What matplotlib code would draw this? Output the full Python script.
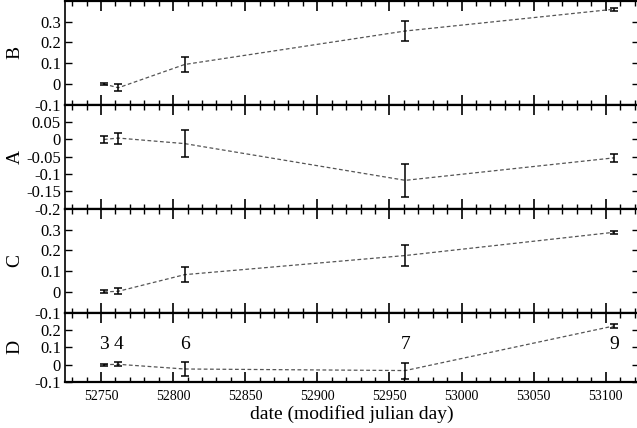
import matplotlib
matplotlib.use("Agg")
import matplotlib.pyplot as plt
from matplotlib.ticker import MultipleLocator, FixedLocator

plt.rcParams["font.family"] = ["Liberation Serif", "DejaVu Serif"]

# observation dates (MJD) and epoch numbers
dates = [52752, 52762, 52808, 52961, 53106]
epochs = ["3", "4", "6", "7", "9"]

# panel values and errors
b_val = [0.0, -0.018, 0.094, 0.255, 0.360]
b_err = [0.006, 0.017, 0.037, 0.048, 0.007]
a_val = [0.0, 0.004, -0.012, -0.118, -0.053]
a_err = [0.011, 0.016, 0.038, 0.048, 0.012]
c_val = [0.0, 0.003, 0.083, 0.175, 0.287]
c_err = [0.007, 0.014, 0.036, 0.050, 0.008]
d_val = [0.0, 0.002, -0.025, -0.034, 0.224]
d_err = [0.006, 0.012, 0.043, 0.046, 0.010]

panels = [
    ("B", b_val, b_err, (-0.1, 0.4), [-0.1, 0, 0.1, 0.2, 0.3], ["-0.1", "0", "0.1", "0.2", "0.3"]),
    ("A", a_val, a_err, (-0.2, 0.1), [-0.2, -0.15, -0.1, -0.05, 0, 0.05],
     ["-0.2", "-0.15", "-0.1", "-0.05", "0", "0.05"]),
    ("C", c_val, c_err, (-0.1, 0.4), [-0.1, 0, 0.1, 0.2, 0.3], ["-0.1", "0", "0.1", "0.2", "0.3"]),
    ("D", d_val, d_err, (-0.1, 0.3), [-0.1, 0, 0.1, 0.2], ["-0.1", "0", "0.1", "0.2"]),
]

fig = plt.figure(figsize=(6.37, 4.28), dpi=100)
gs = fig.add_gridspec(4, 1, height_ratios=[3, 3, 3, 2], hspace=0,
                      left=0.102, right=1.003, top=0.998, bottom=0.1075)

axes = []
for i, (name, vals, errs, ylim, yt, ytl) in enumerate(panels):
    ax = fig.add_subplot(gs[i], sharex=axes[0] if axes else None)
    axes.append(ax)
    ax.plot(dates, vals, ls=(0, (3, 2)), color="#555555", lw=0.9)
    ax.errorbar(dates, vals, yerr=errs, fmt="none", ecolor="black",
                elinewidth=1.1, capsize=3, capthick=1.1)
    ax.set_ylim(*ylim)
    ax.yaxis.set_major_locator(FixedLocator(yt))
    ax.set_yticklabels(ytl)
    ax.set_ylabel(name, fontsize=14)
    ax.yaxis.set_label_coords(-0.072, 0.5)
    ax.tick_params(axis="y", direction="in", left=True, right=True,
                   length=5, width=1, labelsize=12, pad=3)
    ax.tick_params(axis="x", which="major", direction="in", top=True, bottom=True,
                   length=7, width=1.2)
    ax.tick_params(axis="x", which="minor", direction="in", top=True, bottom=True,
                   length=3.5, width=1)
    for side in ["top", "bottom"]:
        ax.spines[side].set_linewidth(1.6)
    ax.spines["left"].set_linewidth(1.2)
    ax.spines["right"].set_linewidth(1.2)
    if i < 3:
        ax.tick_params(axis="x", labelbottom=False)

ax = axes[-1]
ax.set_xlim(52725, 53123)
ax.xaxis.set_major_locator(MultipleLocator(50))
ax.xaxis.set_minor_locator(MultipleLocator(10))
ax.tick_params(axis="x", labelsize=10, pad=6)
ax.set_xlabel("date (modified julian day)", fontsize=14, labelpad=1)

for x, lab in zip(dates, epochs):
    ax.text(x, 0.115, lab, ha="center", va="center", fontsize=14)

fig.savefig("out.png", dpi=100)
